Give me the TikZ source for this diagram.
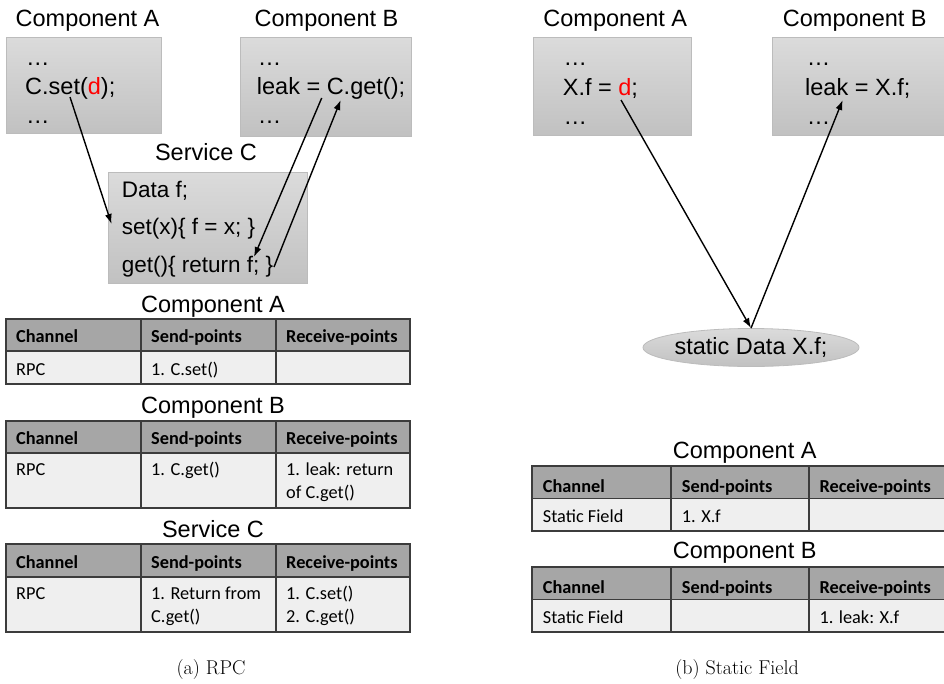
\documentclass[tikz,border=0pt]{standalone}
\usepackage{fontspec}
\usepackage{tikz}
\usetikzlibrary{arrows.meta,shapes.geometric}
\newfontfamily\arialfont{Liberation Sans}
\newfontfamily\califont{Carlito}
\definecolor{boxtop}{RGB}{219,219,219}
\definecolor{boxbot}{RGB}{193,193,193}
\definecolor{boxline}{RGB}{188,188,188}
\definecolor{headgray}{RGB}{166,166,166}
\definecolor{bodygray}{RGB}{239,239,239}
\definecolor{gridline}{RGB}{60,60,60}

\begin{document}
\begin{tikzpicture}[x=1pt,y=-1pt,
  ttl/.style={anchor=base,inner sep=0,font=\arialfont\fontsize{23.5}{28}\selectfont},
  code/.style={anchor=base west,inner sep=0,font=\arialfont\fontsize{23.5}{28}\selectfont},
  svc/.style={anchor=base west,inner sep=0,font=\arialfont\fontsize{22.5}{27}\selectfont},
  codebox/.style={draw=boxline,line width=0.8pt,top color=boxtop,bottom color=boxbot,
    anchor=north west,inner sep=0},
  hcell/.style={anchor=base west,inner sep=0,font=\califont\bfseries\fontsize{18.3}{23}\selectfont},
  bcell/.style={anchor=base west,inner sep=0,font=\califont\fontsize{18.3}{23}\selectfont},
  headrow/.style={fill=headgray,draw=gridline,line width=1.3pt},
  bodyrow/.style={fill=bodygray,draw=gridline,line width=1.3pt},
  colline/.style={draw=gridline,line width=1.3pt},
  flow/.style={-{Latex[length=10pt,width=7pt]},line width=1.4pt},
  captext/.style={anchor=base,inner sep=0,font=\fontsize{20}{24}\selectfont}]
  \useasboundingbox (0,0) rectangle (944,683);

  % (a) RPC
  \node[ttl] (ttlA) at (87.5,26) {Component A};
  \node[ttl] (ttlB) at (326.5,26) {Component B};
  \node[codebox,minimum width=155,minimum height=96] (boxA) at (6,37) {};
  \node[codebox,minimum width=171,minimum height=99] (boxB) at (240,37) {};
  \node[code] (a1) at (26,65) {…};
  \node[code] (a2) at (25,94) {C.set(\textcolor{red}{d});};
  \node[code] (a3) at (26,123) {…};
  \node[code] (b1) at (257.7,65) {…};
  \node[code] (b2) at (256.7,94) {leak = C.get();};
  \node[code] (b3) at (257.7,123) {…};
  \node[ttl] (ttlC) at (206,160) {Service C};
  \node[codebox,minimum width=199,minimum height=111] (boxC) at (108,172) {};
  \node[svc] (c1) at (121.7,197) {Data f;};
  \node[svc] (c2) at (121.7,234) {set(x)\{ f = x; \}};
  \node[svc] (c3) at (121.7,272) {get()\{ return f; \}};
  \coordinate (setA) at (70,97);
  \coordinate (setC) at (111.5,224);
  \coordinate (getB) at (321.7,98);
  \coordinate (getC) at (254,257);
  \coordinate (retC) at (274,267);
  \coordinate (retB) at (340.7,100);
  \draw[flow] (setA) -- (setC);
  \draw[flow] (getB) -- (getC);
  \draw[flow] (retC) -- (retB);

  \node[ttl] (tabA) at (213,312) {Component A};
  \draw[headrow] (6,319) rectangle (410,351);
  \draw[bodyrow] (6,351) rectangle (410,384);
  \draw[colline] (141,319) -- (141,384) (276,319) -- (276,384);
  \node[hcell] (hA1) at (16,342) {Channel};
  \node[hcell] (hA2) at (151,342) {Send-points};
  \node[hcell] (hA3) at (286,342) {Receive-points};
  \node[bcell] (rA1) at (16,375) {RPC};
  \node[bcell] (rA2) at (151,375) {1. C.set()};

  \node[ttl] (tabB) at (213,413) {Component B};
  \draw[headrow] (6,421) rectangle (410,453);
  \draw[bodyrow] (6,453) rectangle (410,508);
  \draw[colline] (141,421) -- (141,508) (276,421) -- (276,508);
  \node[hcell] (hB1) at (16,444.5) {Channel};
  \node[hcell] (hB2) at (151,444.5) {Send-points};
  \node[hcell] (hB3) at (286,444.5) {Receive-points};
  \node[bcell] (rB1) at (16,475) {RPC};
  \node[bcell] (rB2) at (151,475) {1. C.get()};
  \node[bcell] (rB3) at (286,475) {1. leak: return};
  \node[bcell] (rB4) at (286,498) {of C.get()};

  \node[ttl] (tabC) at (213,537) {Service C};
  \draw[headrow] (6,544) rectangle (410,577);
  \draw[bodyrow] (6,577) rectangle (410,632);
  \draw[colline] (141,544) -- (141,632) (276,544) -- (276,632);
  \node[hcell] (hC1) at (16,568) {Channel};
  \node[hcell] (hC2) at (151,568) {Send-points};
  \node[hcell] (hC3) at (286,568) {Receive-points};
  \node[bcell] (rC1) at (16,599) {RPC};
  \node[bcell] (rC2) at (151,599) {1. Return from};
  \node[bcell] (rC3) at (151,622) {C.get()};
  \node[bcell] (rC4) at (286,599) {1. C.set()};
  \node[bcell] (rC5) at (286,622) {2. C.get()};

  \node[captext] (capa) at (211,674) {(a) RPC};

  % (b) Static Field
  \node[ttl] (sttlA) at (615.3,26) {Component A};
  \node[ttl] (sttlB) at (854.8,26) {Component B};
  \node[codebox,minimum width=158,minimum height=98] (sboxA) at (533,37) {};
  \node[codebox,minimum width=180,minimum height=98] (sboxB) at (772,37) {};
  \node[code] (sa1) at (563.3,65) {…};
  \node[code] (sa2) at (562.7,95) {X.f = \textcolor{red}{d};};
  \node[code] (sa3) at (563.3,124) {…};
  \node[code] (sb1) at (806.7,65) {…};
  \node[code] (sb2) at (805,95) {leak = X.f;};
  \node[code] (sb3) at (806.7,124) {…};
  \node[ellipse,draw=boxline,line width=0.8pt,top color=boxtop,bottom color=boxbot,
    minimum width=207,minimum height=38,inner sep=0,
    font=\arialfont\fontsize{23.5}{28}\selectfont] (sdata) at (751,347.5) {static Data X.f;};
  \coordinate (dA) at (621,100);
  \coordinate (leakB) at (842.7,100);
  \draw[flow] (dA) -- (sdata.north);
  \draw[flow] (sdata.north) -- (leakB);

  \node[ttl] (stabA) at (744.7,458) {Component A};
  \draw[headrow] (532,466) rectangle (946,498.5);
  \draw[bodyrow] (532,498.5) rectangle (946,531);
  \draw[colline] (671,466) -- (671,531) (809,466) -- (809,531);
  \node[hcell] (shA1) at (542.7,492) {Channel};
  \node[hcell] (shA2) at (681.7,492) {Send-points};
  \node[hcell] (shA3) at (819.3,492) {Receive-points};
  \node[bcell] (srA1) at (542.7,522) {Static Field};
  \node[bcell] (srA2) at (681.7,522) {1. X.f};

  \node[ttl] (stabB) at (744.7,558.5) {Component B};
  \draw[headrow] (532,567) rectangle (946,599.5);
  \draw[bodyrow] (532,599.5) rectangle (946,632);
  \draw[colline] (671,567) -- (671,632) (809,567) -- (809,632);
  \node[hcell] (shB1) at (542.7,593) {Channel};
  \node[hcell] (shB2) at (681.7,593) {Send-points};
  \node[hcell] (shB3) at (819.3,593) {Receive-points};
  \node[bcell] (srB1) at (542.7,623) {Static Field};
  \node[bcell] (srB3) at (819.3,623) {1. leak: X.f};

  \node[captext] (capb) at (737,674) {(b) Static Field};
\end{tikzpicture}
\end{document}
